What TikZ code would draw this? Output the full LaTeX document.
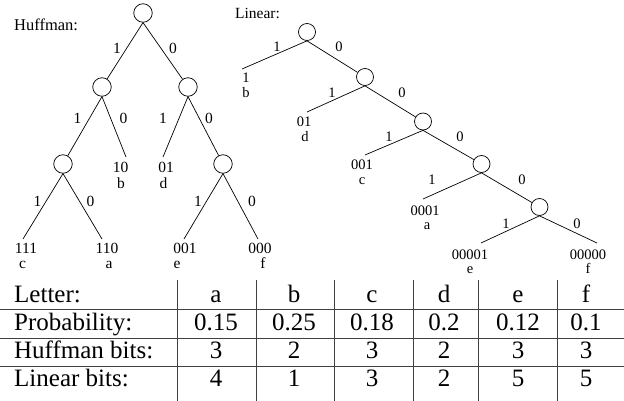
\documentclass[tikz,border=0pt]{standalone}
\usepackage{fontspec}
\setmainfont{Liberation Serif}
\begin{document}
\begin{tikzpicture}[x=1pt,y=-1pt,
  hnode/.style={circle,draw,line width=0.7pt,minimum size=18.5pt,inner sep=0pt},
  lnode/.style={circle,draw,line width=0.7pt,minimum size=17pt,inner sep=0pt},
  edge/.style={line width=0.7pt},
  hlab/.style={font=\fontsize{15.5}{17}\selectfont,inner sep=0pt},
  llab/.style={font=\fontsize{14.5}{16}\selectfont,inner sep=0pt},
  htitle/.style={font=\fontsize{16.5}{18}\selectfont,inner sep=0pt,anchor=base west},
  cell/.style={font=\fontsize{25}{28}\selectfont,inner sep=0pt,anchor=base},
  rowhead/.style={font=\fontsize{25}{28}\selectfont,inner sep=0pt,anchor=base west},
  gridline/.style={line width=1pt,draw=black!75}]
\useasboundingbox (0,0) rectangle (624,401);

% ---------------- Huffman tree ----------------
\node[htitle] (htit) at (14,31) {Huffman:};
\node[hnode] (h)   at (143,13) {};
\node[hnode] (h1)  at (102,87) {};
\node[hnode] (h0)  at (188,87) {};
\node[hnode] (h11) at (63,164) {};
\node[hnode] (h00) at (223,164) {};
\coordinate (h10)  at (126,157);
\coordinate (h01)  at (163,157);
\coordinate (h111) at (23,239);
\coordinate (h110) at (102,239);
\coordinate (h001) at (184,239);
\coordinate (h000) at (258,239);

\draw[edge] (h.south) -- (h1);
\draw[edge] (h.south) -- (h0);
\draw[edge] (h1.south) -- (h11);
\draw[edge] (h1.south) -- (h10);
\draw[edge] (h0.south) -- (h01);
\draw[edge] (h0.south) -- (h00);
\draw[edge] (h11.south) -- (h111);
\draw[edge] (h11.south) -- (h110);
\draw[edge] (h00.south) -- (h001);
\draw[edge] (h00.south) -- (h000);

\node[hlab] (hl1) at (117,48) {1};
\node[hlab] (hl2) at (173,48) {0};
\node[hlab] (hl3) at (77.5,118) {1};
\node[hlab] (hl4) at (123.5,118) {0};
\node[hlab] (hl5) at (163,118) {1};
\node[hlab] (hl6) at (209,118) {0};
\node[hlab] (hl7) at (37.5,201) {1};
\node[hlab] (hl8) at (90.5,201) {0};
\node[hlab] (hl9) at (198,201) {1};
\node[hlab] (hl10) at (252,201) {0};

\node[hlab,anchor=base] (hc10) at (120.5,173) {10};
\node[hlab,anchor=base] (hb)   at (121,189) {b};
\node[hlab,anchor=base] (hc01) at (166,173) {01};
\node[hlab,anchor=base] (hd)   at (163.5,189) {d};
\node[hlab,anchor=base] (hc111) at (26,253) {111};
\node[hlab,anchor=base] (hc)    at (22.5,268) {c};
\node[hlab,anchor=base] (hc110) at (107,253) {110};
\node[hlab,anchor=base] (ha)    at (109,268) {a};
\node[hlab,anchor=base] (hc001) at (185,253) {001};
\node[hlab,anchor=base] (he)    at (177,268) {e};
\node[hlab,anchor=base] (hc000) at (260,253) {000};
\node[hlab,anchor=base] (hf)    at (263,268) {f};

% ---------------- Linear tree ----------------
\node[htitle,font=\fontsize{15.5}{17}\selectfont] (ltit) at (235,19) {Linear:};
\node[lnode] (l1) at (307,32) {};
\node[lnode] (l2) at (365,77) {};
\node[lnode] (l3) at (423,121.5) {};
\node[lnode] (l4) at (481.5,164) {};
\node[lnode] (l5) at (539.5,207) {};
\coordinate (lb) at (242,69);
\coordinate (ld) at (307,112);
\coordinate (lc) at (365,155);
\coordinate (la) at (423,199);
\coordinate (le) at (481,243);
\coordinate (lf) at (597,243);

\draw[edge] (l1.south) -- (lb);
\draw[edge] (l1.south) -- (l2);
\draw[edge] (l2.south) -- (ld);
\draw[edge] (l2.south) -- (l3);
\draw[edge] (l3.south) -- (lc);
\draw[edge] (l3.south) -- (l4);
\draw[edge] (l4.south) -- (la);
\draw[edge] (l4.south) -- (l5);
\draw[edge] (l5.south) -- (le);
\draw[edge] (l5.south) -- (lf);

\node[llab] (ll1)  at (277,47) {1};
\node[llab] (ll2)  at (339,47) {0};
\node[llab] (ll3)  at (332,93) {1};
\node[llab] (ll4)  at (402,93) {0};
\node[llab] (ll5)  at (389,137) {1};
\node[llab] (ll6)  at (460,137) {0};
\node[llab] (ll7)  at (432,180) {1};
\node[llab] (ll8)  at (522,180) {0};
\node[llab] (ll9)  at (506,224) {1};
\node[llab] (ll10) at (577,224) {0};

\node[llab,anchor=base] (lcb) at (246,83) {1};
\node[llab,anchor=base] (ltb) at (246,97.5) {b};
\node[llab,anchor=base] (lcd) at (304,127) {01};
\node[llab,anchor=base] (ltd) at (305,141.5) {d};
\node[llab,anchor=base] (lcc) at (362,170) {001};
\node[llab,anchor=base] (ltc) at (362,184.5) {c};
\node[llab,anchor=base] (lca) at (425,215) {0001};
\node[llab,anchor=base] (lta) at (427,229.5) {a};
\node[llab,anchor=base] (lce) at (470,259) {00001};
\node[llab,anchor=base] (lte) at (470,273.5) {e};
\node[llab,anchor=base] (lcf) at (588,259) {00000};
\node[llab,anchor=base] (ltf) at (588,273.5) {f};

% ---------------- Table ----------------
\foreach \yy in {309,338,366} \draw[gridline] (0,\yy) -- (624,\yy);
\foreach \xx in {177,256,334,413,478,557} \draw[gridline] (\xx,280) -- (\xx,401);

\node[rowhead] (r1) at (14,302) {Letter:};
\node[rowhead] (r2) at (14,330) {Probability:};
\node[rowhead] (r3) at (14,358) {Huffman bits:};
\node[rowhead] (r4) at (14,386) {Linear bits:};

\foreach \c/\x in {a/216,b/294,c/372,d/444,e/518,f/586}
  \node[cell] (let-\c) at (\x,302) {\c};
\foreach \v/\x [count=\i] in {0.15/216,0.25/294,0.18/372,0.2/444,0.12/518,0.1/586}
  \node[cell] (pr-\i) at (\x,330) {\v};
\foreach \v/\x [count=\i] in {3/216,2/294,3/372,2/444,3/518,3/586}
  \node[cell] (hb-\i) at (\x,358) {\v};
\foreach \v/\x [count=\i] in {4/216,1/294,3/372,2/444,5/518,5/586}
  \node[cell] (lb-\i) at (\x,386) {\v};
\end{tikzpicture}
\end{document}
